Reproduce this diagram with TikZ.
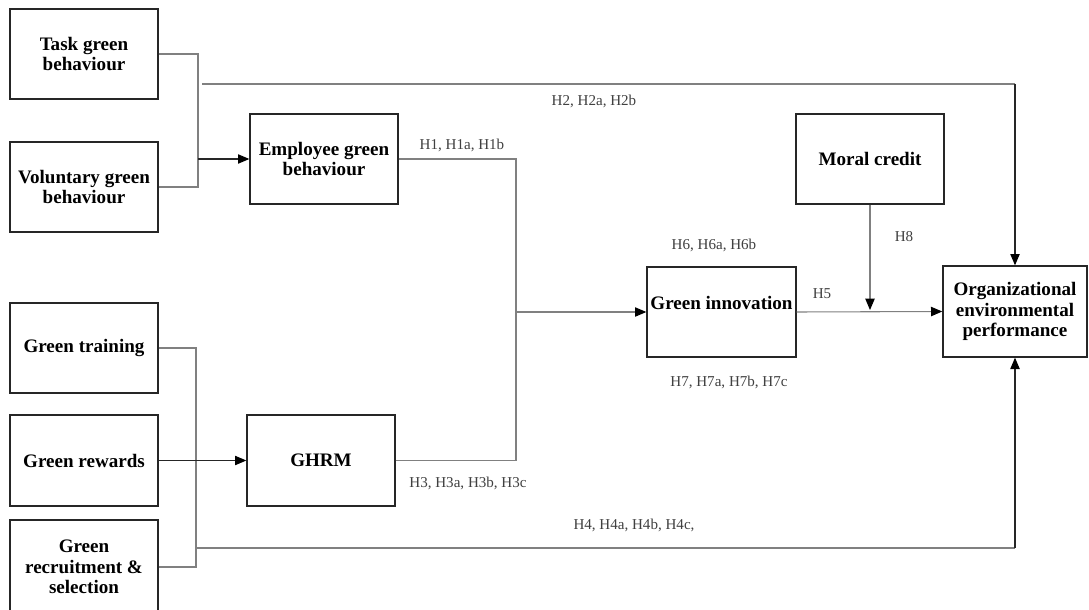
\documentclass[tikz,border=0pt]{standalone}
\usepackage{fontspec}
\setmainfont{Liberation Serif}
\usetikzlibrary{arrows.meta}
\tikzset{
  box/.style={draw=black!85, line width=1pt, minimum width=111pt, minimum height=67.5pt,
    inner sep=0pt, align=center, font=\bfseries\fontsize{14.3}{15.2}\selectfont},
  boxtext/.style={align=center, font=\bfseries\fontsize{14.3}{15.2}\selectfont, inner sep=0pt},
  conn/.style={draw=black!50, line width=0.8pt},
  dark/.style={draw=black!85, line width=0.8pt},
  arr/.style={-{Triangle[length=8.5pt,width=7pt,color=black]}},
  hyp/.style={font=\fontsize{11.3}{13}\selectfont, text=black!75, inner sep=0pt}
}
\begin{document}
\begin{tikzpicture}[x=0.75pt,y=-0.75pt]
\useasboundingbox (0,0) rectangle (1089,610);
\clip (0,0) rectangle (1089,610);
\fill[white] (0,0) rectangle (1089,610);
% boxes
\node[box] (task) at (84,54) {Task green\\behaviour};
\node[box] (vol) at (84,187) {Voluntary green\\behaviour};
\node[box] (emp) at (324,159) {Employee green\\behaviour};
\node[box] (moral) at (870,159) {Moral credit};
\node[box, minimum width=111.75pt] (gi) at (721.5,312) {};
\node[boxtext, yshift=7pt] (gitext) at (gi.center) {Green innovation};
\node[box, minimum width=108pt, minimum height=68.25pt] (org) at (1015,311.5) {Organizational\\environmental\\performance};
\node[box] (gt) at (84,348) {Green training};
\node[box, minimum height=68.25pt] (gr) at (84,460.5) {Green rewards};
\node[box, minimum height=70.5pt] (grs) at (84,567) {Green\\recruitment \&\\selection};
\node[box, minimum height=68.25pt] (ghrm) at (321,460.5) {GHRM};
% junction coordinates
\coordinate (j1) at (198,159);
\coordinate (h2s) at (202,84);
\coordinate (j2) at (516,312);
\coordinate (j3) at (196,548);
\coordinate (j4) at (870,310);
% connectors
\draw[conn] (task.east) -| (j1);
\draw[conn] (vol.east) -| (j1);
\draw[dark,arr] (j1) -- (emp.west);
\draw[conn] (h2s) -- (h2s -| org.north);
\draw[dark,arr] (h2s -| org.north) -- (org.north);
\draw[conn] (emp.east) -| (j2);
\draw[conn] (ghrm.east) -| (j2);
\draw[conn,arr] (j2) -- (gi.west);
\draw[conn] (gt.east) -| (j3);
\draw[conn] (grs.east) -| (j3);
\draw[conn] (j3) -- (j3 -| org.south);
\draw[dark,arr] (j3 -| org.south) -- (org.south);
\draw[dark,arr] (gr.east) -- (ghrm.west);
\draw[conn,arr] (gi.east) -- (org.west);
\draw[conn,arr] (moral.south) -- (j4);
% hypothesis labels
\node[hyp] (lh2) at (594,101) {H2, H2a, H2b};
\node[hyp] (lh1) at (462,145) {H1, H1a, H1b};
\node[hyp] (lh3) at (468,483) {H3, H3a, H3b, H3c};
\node[hyp] (lh6) at (714,245) {H6, H6a, H6b};
\node[hyp] (lh7) at (729,382) {H7, H7a, H7b, H7c};
\node[hyp] (lh8) at (904,237) {H8};
\node[hyp] (lh5) at (822,294) {H5};
\node[hyp] (lh4) at (634,525) {H4, H4a, H4b, H4c,};
\end{tikzpicture}
\end{document}
